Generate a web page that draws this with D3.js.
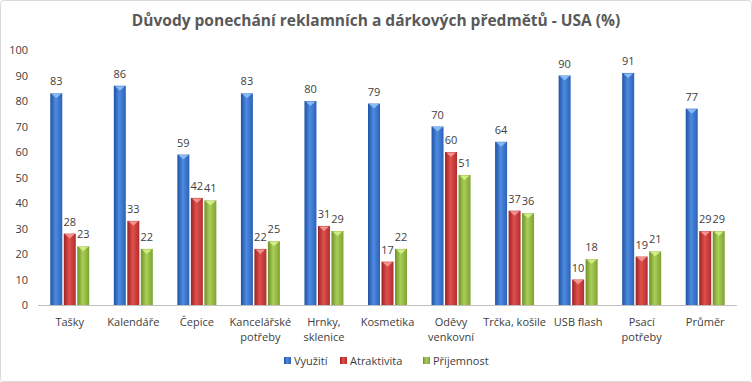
<!DOCTYPE html>
<html><head><meta charset="utf-8">
<script src="https://cdn.jsdelivr.net/npm/d3@7"></script>
<style>body{margin:0;background:#fff}svg{display:block}text{font-family:"Open Sans","Noto Sans",sans-serif}</style>
</head><body>
<script>
const categories = [["Tašky"],["Kalendáře"],["Čepice"],["Kancelářské","potřeby"],["Hrnky,","sklenice"],["Kosmetika"],["Oděvy","venkovní"],["Trčka, košile"],["USB flash"],["Psací","potřeby"],["Průměr"]];
const seriesNames = ["Využití","Atraktivita","Příjemnost"];
const vyuziti = [83,86,59,83,80,79,70,64,90,91,77];
const atraktivita = [28,33,42,22,31,17,60,37,10,19,29];
const prijemnost = [23,22,41,25,29,22,51,36,18,21,29];
const yTicks = [0,10,20,30,40,50,60,70,80,90,100];
const series = [vyuziti, atraktivita, prijemnost];
const colors = [["#1f52a3","#4d8ae0","#2c62b8"],["#9a2222","#e0504d","#b02e2c"],["#6f8f2a","#a9cf55","#7fa236"]];
const tipColors = ["#8fc0f5","#f59a98","#d8f08c"];

const W=752,H=382;
const svg=d3.select("body").append("svg").attr("width",W).attr("height",H);
const defs=svg.append("defs");
colors.forEach((c,i)=>{
  const g=defs.append("linearGradient").attr("id","g"+i).attr("x1","0").attr("x2","1").attr("y1","0").attr("y2","0");
  g.append("stop").attr("offset","0%").attr("stop-color",c[0]);
  g.append("stop").attr("offset","45%").attr("stop-color",c[1]);
  g.append("stop").attr("offset","100%").attr("stop-color",c[2]);
});
svg.append("rect").attr("x",0.5).attr("y",0.5).attr("width",W-1).attr("height",H-1).attr("rx",3).attr("fill","#fff").attr("stroke","#d9d9d9");

svg.append("text").attr("x",376).attr("y",26).attr("text-anchor","middle").attr("font-size",15.5).attr("font-weight","bold").attr("fill","#595959").text("Důvody ponechání reklamních a dárkových předmětů - USA (%)");

const x0=d3.scaleBand().domain(d3.range(categories.length)).range([38,737]);
const y=d3.scaleLinear().domain([0,100]).range([305,50]);
const bw=12, step=13.5;

const ya=svg.append("g").attr("transform","translate(38,0)").call(d3.axisLeft(y).tickValues(yTicks).tickSize(0).tickPadding(10));
ya.select(".domain").remove();
ya.selectAll("text").attr("font-size",11).attr("fill","#404040").style("font-family","'Open Sans',sans-serif");

svg.append("line").attr("x1",38).attr("x2",737).attr("y1",y(0)+0.5).attr("y2",y(0)+0.5).attr("stroke","#bfbfbf");

series.forEach((vals,si)=>{
  const g=svg.append("g");
  vals.forEach((v,ci)=>{
    const cx=x0(ci)+x0.bandwidth()/2+(si-1)*step;
    g.append("rect").attr("x",cx-bw/2).attr("y",y(v)).attr("width",bw).attr("height",y(0)-y(v)).attr("fill","url(#g"+si+")");
    g.append("path").attr("d",`M${cx-bw/2+1},${y(v)+0.5} L${cx+bw/2-1},${y(v)+0.5} L${cx},${y(v)+5} Z`).attr("fill",tipColors[si]).attr("opacity",0.9);
    g.append("text").attr("x",cx).attr("y",y(v)-8).attr("text-anchor","middle").attr("font-size",11).attr("fill","#404040").text(v);
  });
});

categories.forEach((lines,ci)=>{
  const t=svg.append("text").attr("x",x0(ci)+x0.bandwidth()/2).attr("y",326).attr("text-anchor","middle").attr("font-size",11).attr("fill","#404040");
  lines.forEach((l,li)=>t.append("tspan").attr("x",x0(ci)+x0.bandwidth()/2).attr("dy",li?15:0).text(l));
});

const legX=[284,340,423];
seriesNames.forEach((n,i)=>{
  svg.append("rect").attr("x",legX[i]).attr("y",357).attr("width",7).attr("height",7).attr("fill","url(#g"+i+")");
  svg.append("text").attr("x",legX[i]+10).attr("y",364.5).attr("font-size",11).attr("fill","#404040").text(n);
});
</script>
</body></html>
